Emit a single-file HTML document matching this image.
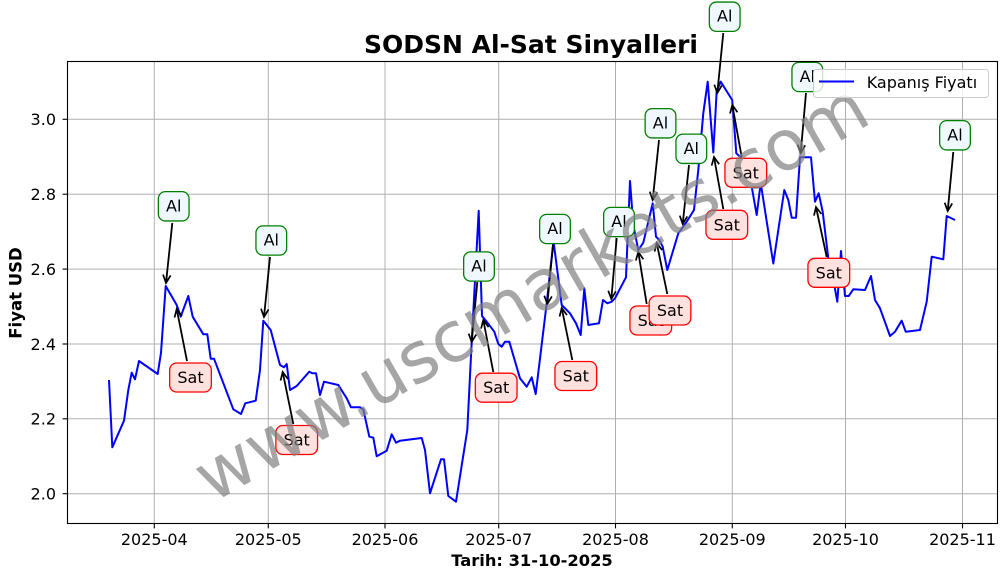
<!DOCTYPE html>
<html><head><meta charset="utf-8"><style>
html,body{margin:0;padding:0;background:#fff;}
svg{display:block;font-family:"DejaVu Sans","Liberation Sans",sans-serif;}
</style></head><body>
<svg width="1006" height="578" viewBox="0 0 1006 578" xmlns="http://www.w3.org/2000/svg">
<defs>
<marker id="ah" viewBox="-10 -6 12 12" refX="0" refY="0" markerWidth="12" markerHeight="12" markerUnits="userSpaceOnUse" orient="auto">
<path d="M-8,-3.8 L0,0 L-8,3.8" fill="none" stroke="#000" stroke-width="1.7"/>
</marker>
</defs>
<rect width="1006" height="578" fill="#fff"/>
<!-- grid -->
<g stroke="#b0b0b0" stroke-width="1">
<line x1="154.3" y1="61.5" x2="154.3" y2="523.5"/>
<line x1="268.3" y1="61.5" x2="268.3" y2="523.5"/>
<line x1="385" y1="61.5" x2="385" y2="523.5"/>
<line x1="498.7" y1="61.5" x2="498.7" y2="523.5"/>
<line x1="615.5" y1="61.5" x2="615.5" y2="523.5"/>
<line x1="732.3" y1="61.5" x2="732.3" y2="523.5"/>
<line x1="845.5" y1="61.5" x2="845.5" y2="523.5"/>
<line x1="962.5" y1="61.5" x2="962.5" y2="523.5"/>
<line x1="67.5" y1="493.7" x2="997.5" y2="493.7"/>
<line x1="67.5" y1="418.8" x2="997.5" y2="418.8"/>
<line x1="67.5" y1="344" x2="997.5" y2="344"/>
<line x1="67.5" y1="269.1" x2="997.5" y2="269.1"/>
<line x1="67.5" y1="194.2" x2="997.5" y2="194.2"/>
<line x1="67.5" y1="119.3" x2="997.5" y2="119.3"/>
</g>
<!-- price line -->
<polyline fill="none" stroke="#0000ff" stroke-width="2" stroke-linejoin="round" points="109,380 112.3,447.3 124,420.7 128.3,390 131.7,372.7 135,379.3 139,361 157.7,374 161,352.7 165.7,286 176.7,305 180.7,316.7 188.3,296 192.7,316.7 203.3,334.3 207.3,334.3 210.7,358.7 214,358.7 233.3,409.3 241,414 245.3,403.3 255.7,400.7 260,370 263.3,320.7 270.7,330 280,365 284,367.3 286.7,364 290,390 296.7,386 309.3,371.7 312.3,373.3 316,373.3 320,395 324,381.7 338.3,385 346.7,398.3 351,407.3 360,407.3 363.3,409.3 369.3,436.7 373.3,437.7 376.7,456.3 386.7,450.7 391.7,434.3 396,442.7 400,440.7 421.7,438 425,450 430,493.3 441,459.3 444,459.3 448.3,496 456,501.7 467.3,430 471.7,342 478.7,210.7 482,316 486.7,321.7 494.3,331.7 498.3,344 501.7,346.7 505,341.7 509.3,341.7 520,378.3 526.7,386.7 531.7,377.3 535.7,394 546.7,303.3 553.5,241 561.7,305 570,313.3 576,323.3 580.7,335 584.3,288.3 588.3,325 599,323.3 603,300 607.3,303.3 611.7,301.7 615,298.3 626,277.3 630,181 633.3,225 638.3,250 643.3,242.7 652.7,203.3 656,236.7 659.3,240 662.7,246.7 667.3,270 678.3,233.3 683.3,226.7 686.7,221.7 694,210 698.3,170 703.3,113.3 707.7,81.7 713.3,152.5 716.7,91 720.7,81.7 732.2,100 736.3,153.3 741.7,158.3 749,176.7 751.7,186.7 756.7,215 760.7,183 773.3,263.5 784.3,190 788.3,200 791.7,217.7 796,217.7 800,157.3 811,157.3 815,201.7 818.7,193.3 822.7,211.7 828.3,258.3 834,283.3 837.3,301.7 841,251 845,296 848.7,296 853.3,289.3 865,290 871,276 875,300 880,308.3 890,336 895,331.7 901.7,320.7 905.7,331.7 920,330 926.7,301.7 931.7,256.7 943.3,259.3 946.7,216 955,220"/>
<!-- Al annotations -->
<g stroke="#000" stroke-width="1.8" marker-end="url(#ah)">
<line x1="172.3" y1="223" x2="166" y2="283"/>
<line x1="270" y1="257" x2="264" y2="317"/>
<line x1="477.3" y1="282" x2="471.7" y2="342"/>
<line x1="553" y1="245" x2="547.3" y2="304"/>
<line x1="616.7" y1="238" x2="611.3" y2="299"/>
<line x1="659" y1="140" x2="652.7" y2="200"/>
<line x1="689" y1="165" x2="682.7" y2="224"/>
<line x1="723.3" y1="33" x2="717.3" y2="93"/>
<line x1="806" y1="93" x2="800.7" y2="153"/>
<line x1="953.3" y1="152" x2="947.7" y2="211"/>
</g>
<g fill="#f0f8ff" stroke="#008000" stroke-width="1.3">
<rect x="158.35" y="191.65" width="30.7" height="29.3" rx="7"/>
<rect x="255.95" y="225.85" width="30.7" height="29.3" rx="7"/>
<rect x="463.65" y="251.85" width="30.7" height="29.3" rx="7"/>
<rect x="539.65" y="214.35" width="30.7" height="29.3" rx="7"/>
<rect x="603.65" y="207.35" width="30.7" height="29.3" rx="7"/>
<rect x="645.15" y="108.65" width="30.7" height="29.3" rx="7"/>
<rect x="675.95" y="134.15" width="30.7" height="29.3" rx="7"/>
<rect x="709.35" y="2.05" width="30.7" height="29.3" rx="7"/>
<rect x="791.95" y="62.35" width="30.7" height="29.3" rx="7"/>
<rect x="939.65" y="120.65" width="30.7" height="29.3" rx="7"/>
</g>
<g font-size="16" text-anchor="middle" fill="#000">
<text x="173.7" y="211.3">Al</text>
<text x="271.3" y="245.5">Al</text>
<text x="479" y="271.5">Al</text>
<text x="555" y="234">Al</text>
<text x="619" y="227">Al</text>
<text x="660.5" y="128.3">Al</text>
<text x="691.3" y="153.8">Al</text>
<text x="724.7" y="21.7">Al</text>
<text x="807.3" y="82">Al</text>
<text x="955" y="140.3">Al</text>
</g>
<!-- Sat annotations -->
<g stroke="#000" stroke-width="1.8" marker-end="url(#ah)">
<line x1="187" y1="361" x2="176.7" y2="309"/>
<line x1="293.3" y1="424" x2="282.7" y2="372"/>
<line x1="493.3" y1="372" x2="483.3" y2="320"/>
<line x1="572.3" y1="360" x2="561.7" y2="308"/>
<line x1="646.7" y1="304" x2="638.3" y2="252"/>
</g>
<g fill="#ffe2e0" stroke="#ff0000" stroke-width="1.3">
<rect x="169.65" y="363" width="41.7" height="29" rx="7"/>
<rect x="275.85" y="425.5" width="41.7" height="29" rx="7"/>
<rect x="475.35" y="373.2" width="41.7" height="29" rx="7"/>
<rect x="554.95" y="361.5" width="41.7" height="29" rx="7"/>
<rect x="629.95" y="306" width="41.7" height="29" rx="7"/>
</g>
<g font-size="16" text-anchor="middle" fill="#000">
<text x="190.5" y="383">Sat</text>
<text x="296.7" y="445.5">Sat</text>
<text x="496.2" y="393.2">Sat</text>
<text x="575.8" y="381.5">Sat</text>
<text x="650.8" y="326">Sat</text>
</g>
<g stroke="#000" stroke-width="1.8" marker-end="url(#ah)">
<line x1="667.3" y1="294" x2="656.7" y2="243"/>
</g>
<rect x="649.15" y="296" width="41.7" height="29" rx="7" fill="#ffe2e0" stroke="#ff0000" stroke-width="1.3"/>
<text x="670" y="316" font-size="16" text-anchor="middle">Sat</text>
<g stroke="#000" stroke-width="1.8" marker-end="url(#ah)">
<line x1="723.3" y1="209" x2="714" y2="157"/>
<line x1="741.7" y1="157" x2="732.3" y2="105"/>
<line x1="826.7" y1="257" x2="816" y2="207"/>
</g>
<g fill="#ffe2e0" stroke="#ff0000" stroke-width="1.3">
<rect x="705.95" y="210.3" width="41.7" height="29" rx="7"/>
<rect x="724.95" y="158.3" width="41.7" height="29" rx="7"/>
<rect x="807.95" y="258.3" width="41.7" height="29" rx="7"/>
</g>
<g font-size="16" text-anchor="middle" fill="#000">
<text x="726.8" y="230.3">Sat</text>
<text x="745.8" y="178.3">Sat</text>
<text x="828.8" y="278.3">Sat</text>
</g>
<!-- watermark -->
<text x="531" y="292" transform="rotate(-30 531 292)" font-size="70" text-anchor="middle" dominant-baseline="central" fill="#808080" fill-opacity="0.7">www.uscmarkets.com</text>
<!-- legend -->
<rect x="813.5" y="69.5" width="175" height="28" rx="3" fill="#fff" fill-opacity="0.8" stroke="#cccccc" stroke-width="1"/>
<line x1="819" y1="81.5" x2="854" y2="81.5" stroke="#0000ff" stroke-width="2"/>
<text x="866.7" y="87.8" font-size="16" fill="#000">Kapanış Fiyatı</text>
<!-- frame -->
<rect x="67.5" y="61.5" width="930" height="462" fill="none" stroke="#000" stroke-width="1.1"/>
<!-- ticks -->
<g stroke="#000" stroke-width="1.1">
<line x1="154.3" y1="523.5" x2="154.3" y2="528.4"/>
<line x1="268.3" y1="523.5" x2="268.3" y2="528.4"/>
<line x1="385" y1="523.5" x2="385" y2="528.4"/>
<line x1="498.7" y1="523.5" x2="498.7" y2="528.4"/>
<line x1="615.5" y1="523.5" x2="615.5" y2="528.4"/>
<line x1="732.3" y1="523.5" x2="732.3" y2="528.4"/>
<line x1="845.5" y1="523.5" x2="845.5" y2="528.4"/>
<line x1="962.5" y1="523.5" x2="962.5" y2="528.4"/>
<line x1="62.6" y1="493.7" x2="67.5" y2="493.7"/>
<line x1="62.6" y1="418.8" x2="67.5" y2="418.8"/>
<line x1="62.6" y1="344" x2="67.5" y2="344"/>
<line x1="62.6" y1="269.1" x2="67.5" y2="269.1"/>
<line x1="62.6" y1="194.2" x2="67.5" y2="194.2"/>
<line x1="62.6" y1="119.3" x2="67.5" y2="119.3"/>
</g>
<g font-size="16" fill="#000" text-anchor="middle">
<text x="154.3" y="545">2025-04</text>
<text x="268.3" y="545">2025-05</text>
<text x="385" y="545">2025-06</text>
<text x="498.7" y="545">2025-07</text>
<text x="615.5" y="545">2025-08</text>
<text x="732.3" y="545">2025-09</text>
<text x="845.5" y="545">2025-10</text>
<text x="962.5" y="545">2025-11</text>
</g>
<g font-size="16" fill="#000" text-anchor="end">
<text x="56" y="499.5">2.0</text>
<text x="56" y="424.6">2.2</text>
<text x="56" y="349.8">2.4</text>
<text x="56" y="274.9">2.6</text>
<text x="56" y="200">2.8</text>
<text x="56" y="125.1">3.0</text>
</g>
<!-- labels -->
<text x="532" y="566" font-size="16.3" font-weight="bold" text-anchor="middle">Tarih: 31-10-2025</text>
<text x="21.5" y="293" font-size="16.5" font-weight="bold" text-anchor="middle" transform="rotate(-90 21.5 293)">Fiyat USD</text>
<text x="531" y="53" font-size="24.5" font-weight="bold" text-anchor="middle" textLength="334" lengthAdjust="spacingAndGlyphs">SODSN Al-Sat Sinyalleri</text>
</svg>
</body></html>
